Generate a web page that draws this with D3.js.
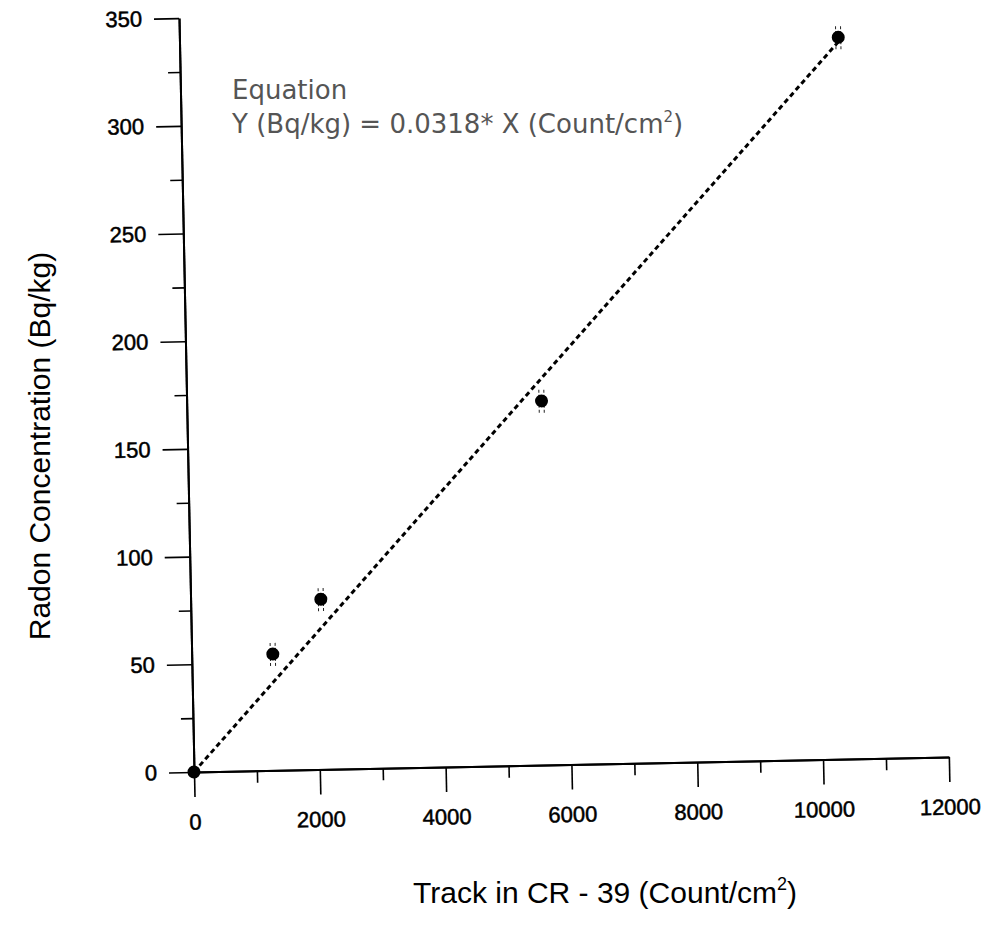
<!DOCTYPE html>
<html>
<head>
<meta charset="utf-8">
<script src="https://cdn.jsdelivr.net/npm/d3@7"></script>
<style>
  body { margin: 0; background: #fff; }
  .tick text { font-family: "Liberation Sans", Arial, sans-serif; }
</style>
</head>
<body>
<div class="output"></div>
<script>
// data
const trackCounts = [0, 1290, 2070, 5640, 10470];   // Count/cm2
const radonConc   = [0, 54, 79, 169, 335];          // Bq/kg
const radonErr    = [0, 5.5, 5.5, 5.5, 5.5];
const fitSlope    = 0.0318;

const xMajorTicks = [0, 2000, 4000, 6000, 8000, 10000, 12000];
const xMinorTicks = [1000, 3000, 5000, 7000, 9000, 11000];
const yMajorTicks = [0, 50, 100, 150, 200, 250, 300, 350];
const yMinorTicks = [25, 75, 125, 175, 225, 275, 325];

const W = 984, H = 926;
const origin = { x: 194, y: 772 };
const plotW = 755, plotH = 754;
const tilt = -1.14; // the scan is slightly rotated

let svg = d3.select(".output")
    .append("svg")
    .attr("width", W)
    .attr("height", H);

let g = svg.append("g")
    .attr("transform", "translate(" + origin.x + "," + origin.y + ") rotate(" + tilt + ")");

// Scales
let x = d3.scaleLinear().domain([0, 12000]).range([0, plotW]);
let y = d3.scaleLinear().domain([0, 350]).range([0, -plotH]);

// X axis
g.append("g")
    .call(d3.axisBottom(x).tickValues(xMajorTicks).tickSize(25).tickSizeOuter(0).tickPadding(17)
        .tickFormat(d3.format("d")));
g.append("g")
    .call(d3.axisBottom(x).tickValues(xMinorTicks).tickSize(12).tickSizeOuter(0).tickFormat(""));

// Y axis
g.append("g")
    .call(d3.axisLeft(y).tickValues(yMajorTicks).tickSize(25).tickSizeOuter(0).tickPadding(12));
g.append("g")
    .call(d3.axisLeft(y).tickValues(yMinorTicks).tickSize(12).tickSizeOuter(0).tickFormat(""));

g.selectAll(".domain").attr("stroke", "#000").attr("stroke-width", 2);
g.selectAll(".tick line").attr("stroke", "#000").attr("stroke-width", 1.6);
g.selectAll(".tick text")
    .attr("fill", "#000")
    .attr("stroke", "#000")
    .attr("stroke-width", 0.5)
    .style("font-size", "22px");

// Fit line
let xEnd = d3.max(trackCounts);
g.append("line")
    .attr("x1", x(0)).attr("y1", y(0))
    .attr("x2", x(xEnd)).attr("y2", y(fitSlope * xEnd))
    .attr("stroke", "#000")
    .attr("stroke-width", 3)
    .attr("stroke-dasharray", "5,3.5");

let points = trackCounts.map((t, i) => ({ x: t, y: radonConc[i], e: radonErr[i] }));

// Error bars (thin, broken, as in the scan)
let bars = g.selectAll("g.err")
    .data(points.filter(d => d.e > 0))
    .enter().append("g")
    .attr("class", "err");
[-2.5, 2.5].forEach(off => {
    bars.append("line")
        .attr("x1", d => x(d.x) + off).attr("x2", d => x(d.x) + off)
        .attr("y1", d => y(d.y - d.e)).attr("y2", d => y(d.y + d.e))
        .attr("stroke", "#222")
        .attr("stroke-width", 1)
        .attr("stroke-dasharray", "3,2");
});

// Points
g.selectAll("circle.pt")
    .data(points)
    .enter().append("circle")
    .attr("class", "pt")
    .attr("cx", d => x(d.x))
    .attr("cy", d => y(d.y))
    .attr("r", 6.5)
    .attr("fill", "#000");

// Equation
let eq = svg.append("g")
    .style("font-family", "'DejaVu Sans', sans-serif")
    .style("font-size", "26px")
    .attr("fill", "#555");
eq.append("text").attr("x", 232).attr("y", 99).text("Equation");
let eqLine = eq.append("text").attr("x", 232).attr("y", 133);
eqLine.append("tspan").text("Y (Bq/kg) = 0.0318* X (Count/cm");
eqLine.append("tspan").attr("dy", -11).style("font-size", "15px").text("2");
eqLine.append("tspan").attr("dy", 11).text(")");

// Axis titles
let xTitle = svg.append("text")
    .attr("x", 413).attr("y", 903)
    .style("font-family", "'Liberation Sans', Arial, sans-serif")
    .style("font-size", "30px")
    .attr("fill", "#000");
xTitle.append("tspan").text("Track in CR - 39 (Count/cm");
xTitle.append("tspan").attr("dy", -13).style("font-size", "18px").text("2");
xTitle.append("tspan").attr("dy", 13).text(")");

svg.append("text")
    .attr("transform", "translate(50,446) rotate(-90)")
    .attr("text-anchor", "middle")
    .style("font-family", "'Liberation Sans', Arial, sans-serif")
    .style("font-size", "30px")
    .attr("fill", "#000")
    .text("Radon Concentration (Bq/kg)");
</script>
</body>
</html>
